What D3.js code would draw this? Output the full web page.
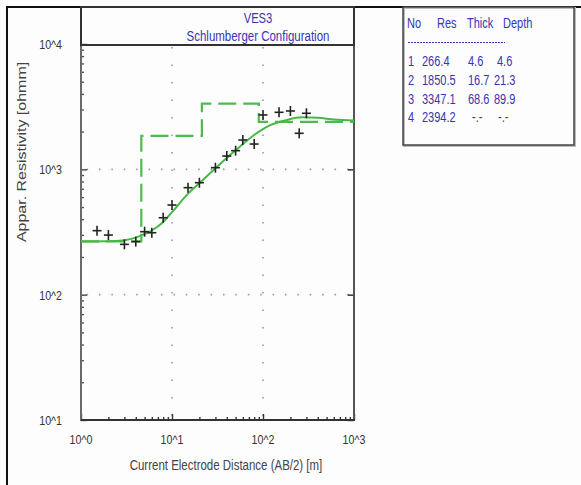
<!DOCTYPE html>
<html><head><meta charset="utf-8">
<script src="https://cdn.jsdelivr.net/npm/d3@7"></script>
<style>
html,body{margin:0;padding:0;background:#fdfdfd;}
svg{display:block;font-family:"Liberation Sans",Arial,sans-serif;}
</style></head>
<body><svg id="c" width="581" height="485"></svg>
<script>
// ---- data ----
const spacing = [1.5, 2, 3, 4, 5, 6, 8, 10, 15, 20, 30, 40, 50, 60, 80, 100, 150, 200, 250, 300];
const apparentRes = [324, 299, 252, 265, 318, 312, 411, 519, 714, 782, 1031, 1277, 1409, 1714, 1592, 2715, 2851, 2921, 1939, 2800];
const curveSpacing = [1, 2, 3, 4, 5, 6, 8, 10, 15, 20, 30, 50, 80, 120, 180, 270, 400, 600, 1000];
const curveRes = [266, 267, 272, 285, 305, 325, 380, 455, 640, 775, 1020, 1420, 1880, 2250, 2470, 2600, 2580, 2500, 2450];
const layerNo = [1, 2, 3, 4];
const layerRes = [266.4, 1850.5, 3347.1, 2394.2];
const layerThick = [4.6, 16.7, 68.6, null];
const layerDepth = [4.6, 21.3, 89.9, null];
const xTickValues = [1, 10, 100, 1000];
const xTickLabels = ["10^0", "10^1", "10^2", "10^3"];
const yTickValues = [10, 100, 1000, 10000];
const yTickLabels = ["10^1", "10^2", "10^3", "10^4"];
const titleLines = ["VES3", "Schlumberger Configuration"];
const tableHeader = ["No", "Res", "Thick", "Depth"];

// ---- layout ----
const svg = d3.select("#c");
const L = 81, R = 354, T = 44, B = 420;
const x = d3.scaleLog().domain([1, 1000]).range([L, R]);
const y = d3.scaleLog().domain([10, 10000]).range([B, T]);
const SX = 0.82;
const blue = "#3636b2";

function txt(g, px, py, s, o) {
  o = o || {};
  const t = g.append("text")
    .attr("transform", `translate(${px},${py}) scale(${o.sx || SX},1)` + (o.rot ? ` rotate(${o.rot})` : ""))
    .attr("font-size", o.size || 12)
    .attr("fill", o.fill || "#333")
    .attr("text-anchor", o.anchor || "start")
    .text(s);
  return t;
}

svg.append("rect").attr("width", 581).attr("height", 485).attr("fill", "#fdfdfd");

// outer frame
svg.append("path").attr("d", "M7,485 L7,7 L581,7").attr("fill", "none").attr("stroke", "#111").attr("stroke-width", 2);

// grid (dotted)
const grid = svg.append("g").attr("stroke", "#9a9a9a").attr("stroke-width", 1.6).attr("fill", "none");
[10, 100].forEach(v => {
  grid.append("line").attr("x1", x(v)).attr("x2", x(v)).attr("y1", T + 1).attr("y2", B)
    .attr("stroke-dasharray", "1.5,16").attr("stroke-dashoffset", 15.5);
});
[100, 1000].forEach(v => {
  grid.append("line").attr("y1", y(v)).attr("y2", y(v)).attr("x1", L).attr("x2", R)
    .attr("stroke-dasharray", "1.5,10.9").attr("stroke-dashoffset", 6.8);
});

// axes ticks via d3 axes
const minorX = x.ticks().filter(v => !xTickValues.includes(v));
const minorY = y.ticks().filter(v => !yTickValues.includes(v));
function styleAxis(g, col) {
  g.select(".domain").remove();
  g.selectAll("text").remove();
  g.selectAll("line").attr("stroke", col).attr("stroke-width", 1.4);
}
svg.append("g").attr("transform", `translate(0,${B})`)
  .call(d3.axisBottom(x).tickValues(minorX).tickSize(-3)).call(g => styleAxis(g, "#333"));
svg.append("g").attr("transform", `translate(0,${B})`)
  .call(d3.axisBottom(x).tickValues(xTickValues).tickSize(-6)).call(g => styleAxis(g, "#333"));
svg.append("g").attr("transform", `translate(${L},0)`)
  .call(d3.axisLeft(y).tickValues(minorY).tickSize(-3)).call(g => styleAxis(g, "#555"));
svg.append("g").attr("transform", `translate(${L},0)`)
  .call(d3.axisLeft(y).tickValues(yTickValues).tickSize(-6)).call(g => styleAxis(g, "#444"));
svg.append("g").attr("transform", `translate(${R},0)`)
  .call(d3.axisRight(y).tickValues(yTickValues.slice(0, 3)).tickSize(-6)).call(g => styleAxis(g, "#222"));

// axis lines
svg.append("line").attr("x1", L).attr("x2", L).attr("y1", T).attr("y2", B + 1).attr("stroke", "#6a6a6a").attr("stroke-width", 2);
svg.append("line").attr("x1", R).attr("x2", R).attr("y1", T).attr("y2", B + 1).attr("stroke", "#555").attr("stroke-width", 2);
svg.append("line").attr("x1", L).attr("x2", R + 1).attr("y1", B).attr("y2", B).attr("stroke", "#333").attr("stroke-width", 2);

// title box
svg.append("rect").attr("x", L).attr("y", 7).attr("width", R - L).attr("height", 45 - 7)
  .attr("fill", "none").attr("stroke", "#333").attr("stroke-width", 2);
txt(svg, 258, 23, titleLines[0], {size: 14, fill: blue, anchor: "middle", sx: 0.8});
txt(svg, 258, 41, titleLines[1], {size: 14, fill: blue, anchor: "middle", sx: 0.82});

// tick labels
xTickValues.forEach((v, i) => txt(svg, x(v), 444, xTickLabels[i], {size: 13, anchor: "middle"}));
yTickValues.forEach((v, i) => txt(svg, 62, y(v) + 5, yTickLabels[i], {size: 13, anchor: "end"}));

// axis titles
txt(svg, 226, 470, "Current Electrode Distance (AB/2) [m]", {size: 14, anchor: "middle", fill: "#444"});
txt(svg, 26, 152, "Appar. Resistivity [ohmm]", {size: 16, anchor: "middle", fill: "#444", rot: -90, sx: 0.8});

// layered model (dashed steps)
const stepPts = [];
let layerTop = 1;
layerRes.forEach((r, i) => {
  const layerBottom = layerDepth[i] == null ? 1000 : layerDepth[i];
  stepPts.push([layerTop, r], [layerBottom, r]);
  layerTop = layerBottom;
});
svg.append("path")
  .attr("d", d3.line().x(d => x(d[0])).y(d => y(d[1]))(stepPts))
  .attr("fill", "none").attr("stroke", "#4cbb4c").attr("stroke-width", 2.2)
  .attr("stroke-dasharray", "18,7");

// model curve
svg.append("path")
  .attr("d", d3.line().x(d => x(d[0])).y(d => y(d[1])).curve(d3.curveMonotoneX)(curveSpacing.map((s, i) => [s, curveRes[i]])))
  .attr("fill", "none").attr("stroke", "#46b846").attr("stroke-width", 2);

// field data crosses
const cr = svg.append("g").attr("stroke", "#222").attr("stroke-width", 1.6);
spacing.forEach((s, i) => {
  const cx = x(s), cy = y(apparentRes[i]);
  cr.append("line").attr("x1", cx - 4.5).attr("x2", cx + 4.5).attr("y1", cy).attr("y2", cy);
  cr.append("line").attr("x1", cx).attr("x2", cx).attr("y1", cy - 5).attr("y2", cy + 5);
});

// table box
svg.append("rect").attr("x", 404).attr("y", 8).attr("width", 171).attr("height", 138)
  .attr("fill", "none").attr("stroke", "#bbb").attr("stroke-width", 2);
svg.append("rect").attr("x", 403).attr("y", 7).attr("width", 171).attr("height", 138)
  .attr("fill", "none").attr("stroke", "#444").attr("stroke-width", 1.5);
const tb = svg.append("g");
const hx = [407, 437, 467, 503];
const TF = {size: 14.5, fill: blue, sx: 0.76};
tableHeader.forEach((h, i) => txt(tb, hx[i], 28, h, TF));
tb.append("line").attr("x1", 408).attr("x2", 505).attr("y1", 42.5).attr("y2", 42.5)
  .attr("stroke", blue).attr("stroke-width", 1).attr("stroke-dasharray", "2,1");
const rowY = [66, 85, 104, 122];
const fmt = v => v == null ? "-.-" : v.toFixed(1);
layerNo.forEach((n, i) => {
  txt(tb, 408, rowY[i], String(n), TF);
  txt(tb, 422, rowY[i], fmt(layerRes[i]), TF);
  txt(tb, layerThick[i] == null ? 472 : 468, rowY[i], fmt(layerThick[i]), TF);
  const dx = layerDepth[i] == null ? 498 : (layerDepth[i] < 10 ? 497 : 494);
  txt(tb, dx, rowY[i], fmt(layerDepth[i]), TF);
});
</script></body></html>
